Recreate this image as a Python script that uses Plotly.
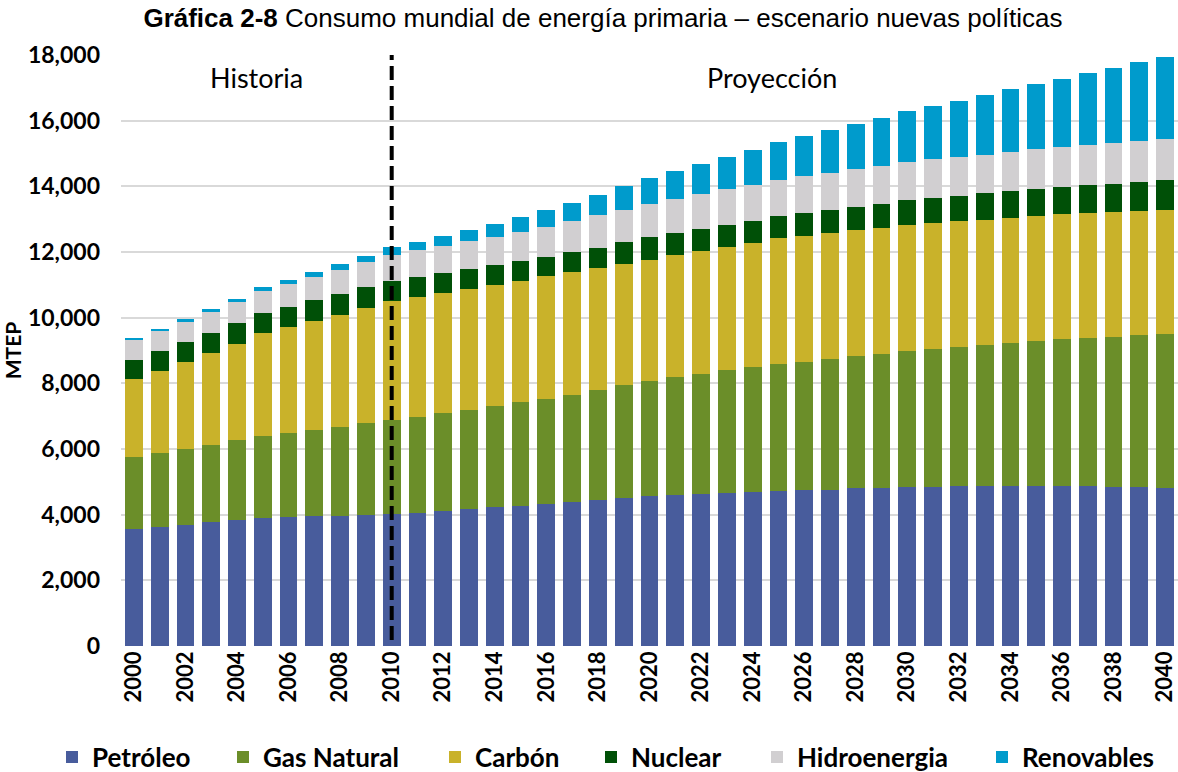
import plotly.graph_objects as go

years = list(range(2000, 2041))
oil = [3560,3630,3700,3770,3840,3900,3925,3945,3965,3995,4015,4055,4115,4180,4220,4270,4330,4390,4450,4510,4560,4595,4635,4665,4695,4735,4745,4765,4805,4825,4835,4855,4865,4865,4875,4885,4865,4865,4845,4835,4815]
gas = [2190,2240,2290,2350,2420,2490,2555,2645,2715,2785,2855,2930,2970,3005,3080,3150,3180,3270,3335,3425,3525,3585,3645,3730,3790,3850,3920,3990,4020,4080,4165,4205,4255,4315,4365,4415,4480,4520,4580,4640,4700]
coal = [2390,2515,2665,2815,2950,3130,3240,3310,3415,3515,3635,3645,3665,3690,3705,3710,3750,3720,3730,3705,3680,3720,3760,3770,3800,3840,3830,3820,3830,3820,3810,3810,3810,3800,3800,3800,3800,3790,3790,3770,3760]
nuclear = [575,590,600,600,625,620,610,630,630,640,620,620,610,610,610,600,590,610,620,650,690,690,660,670,670,670,690,700,720,750,770,770,790,810,810,820,840,860,870,880,910]
hydro = [610,630,640,650,650,680,700,710,740,750,790,800,830,850,850,880,910,940,980,980,1010,1020,1060,1070,1100,1105,1125,1145,1145,1155,1175,1185,1175,1175,1195,1215,1205,1225,1225,1245,1255]
renew = [50,60,60,70,90,100,120,140,160,200,235,265,295,335,395,455,505,555,630,730,800,850,910,990,1065,1145,1215,1285,1370,1460,1540,1620,1710,1820,1905,1995,2085,2190,2300,2410,2510]

series_names = ["Petróleo", "Gas Natural", "Carbón", "Nuclear", "Hidroenergia", "Renovables"]
series_values = [oil, gas, coal, nuclear, hydro, renew]
colors = ["#485C9C", "#6B8E29", "#C9B22A", "#005007", "#D1CFD1", "#009BCC"]
tick_years = list(range(2000, 2041, 2))
tick_labels = [str(y) for y in tick_years]
y_ticks = list(range(0, 18001, 2000))
y_tick_labels = [f"{v:,}" for v in y_ticks]
split_year = 2010
region_labels = ["Historia", "Proyección"]
region_x = [2004.75, 2024.75]
region_y = 17300
title_bold = "Gráfica 2-8"
title_rest = "Consumo mundial de energía primaria – escenario nuevas políticas"

W, H = 1178, 772
legend_text_x = [92, 263, 475, 631, 797, 1022]

fig = go.Figure()
legend_ids = ["legend"] + [f"legend{i}" for i in range(2, 7)]
for name, vals, col, lid in zip(series_names, series_values, colors, legend_ids):
    fig.add_trace(go.Bar(
        x=years, y=vals, name=name, marker=dict(color=col, line=dict(width=0)),
        legend=lid, showlegend=True,
    ))

legend_font = dict(family="Lato", size=26, color="#000000", weight="bold")
for lid, tx in zip(legend_ids, legend_text_x):
    fig.update_layout({lid: dict(
        xref="container", yref="container",
        x=(tx - 40) / W, y=1 - 757 / H, xanchor="left", yanchor="middle",
        orientation="h", font=legend_font, bgcolor="rgba(0,0,0,0)",
        borderwidth=0, itemclick=False, visible=True,
    )})

fig.add_shape(type="line", xref="x", yref="paper", x0=split_year, x1=split_year,
              y0=0.01, y1=1.0, line=dict(color="#000000", width=4, dash="14px,6px"))

for txt, xv in zip(region_labels, region_x):
    fig.add_annotation(x=xv, y=region_y, xref="x", yref="y", text=txt, showarrow=False,
                       font=dict(family="Lato", size=27, color="#000000"))

fig.update_layout(
    width=W, height=H, showlegend=True,
    barmode="stack", bargap=0.31,
    plot_bgcolor="#FFFFFF", paper_bgcolor="#FFFFFF",
    margin=dict(l=121, r=0, t=55, b=126),
    title=dict(text=f"<b>{title_bold}</b> {title_rest}", x=603 / W, xanchor="center",
               y=1 - 18 / H, yanchor="middle", yref="container",
               font=dict(family="Liberation Sans", size=26, color="#000000")),
    xaxis=dict(range=[1999.5, 2040.5], tickmode="array", tickvals=tick_years, ticktext=tick_labels,
               tickangle=-90, showgrid=False, zeroline=False, showline=False, ticks="",
               tickfont=dict(family="Lato", size=22, color="#000000", weight="bold")),
    yaxis=dict(range=[0, 18000], tickmode="array", tickvals=y_ticks, ticktext=y_tick_labels,
               showgrid=True, gridcolor="#D9D9D9", gridwidth=2, zeroline=False,
               showline=False, ticks="", ticklabelstandoff=20,
               tickfont=dict(family="Lato", size=23, color="#000000", weight="bold"),
               title=dict(text="<b>MTEP</b>", standoff=8,
                          font=dict(family="Lato", size=21, color="#000000"))),
)

fig.write_html("out.html", config={"displayModeBar": False},
               post_script="document.body.style.margin='0';")
